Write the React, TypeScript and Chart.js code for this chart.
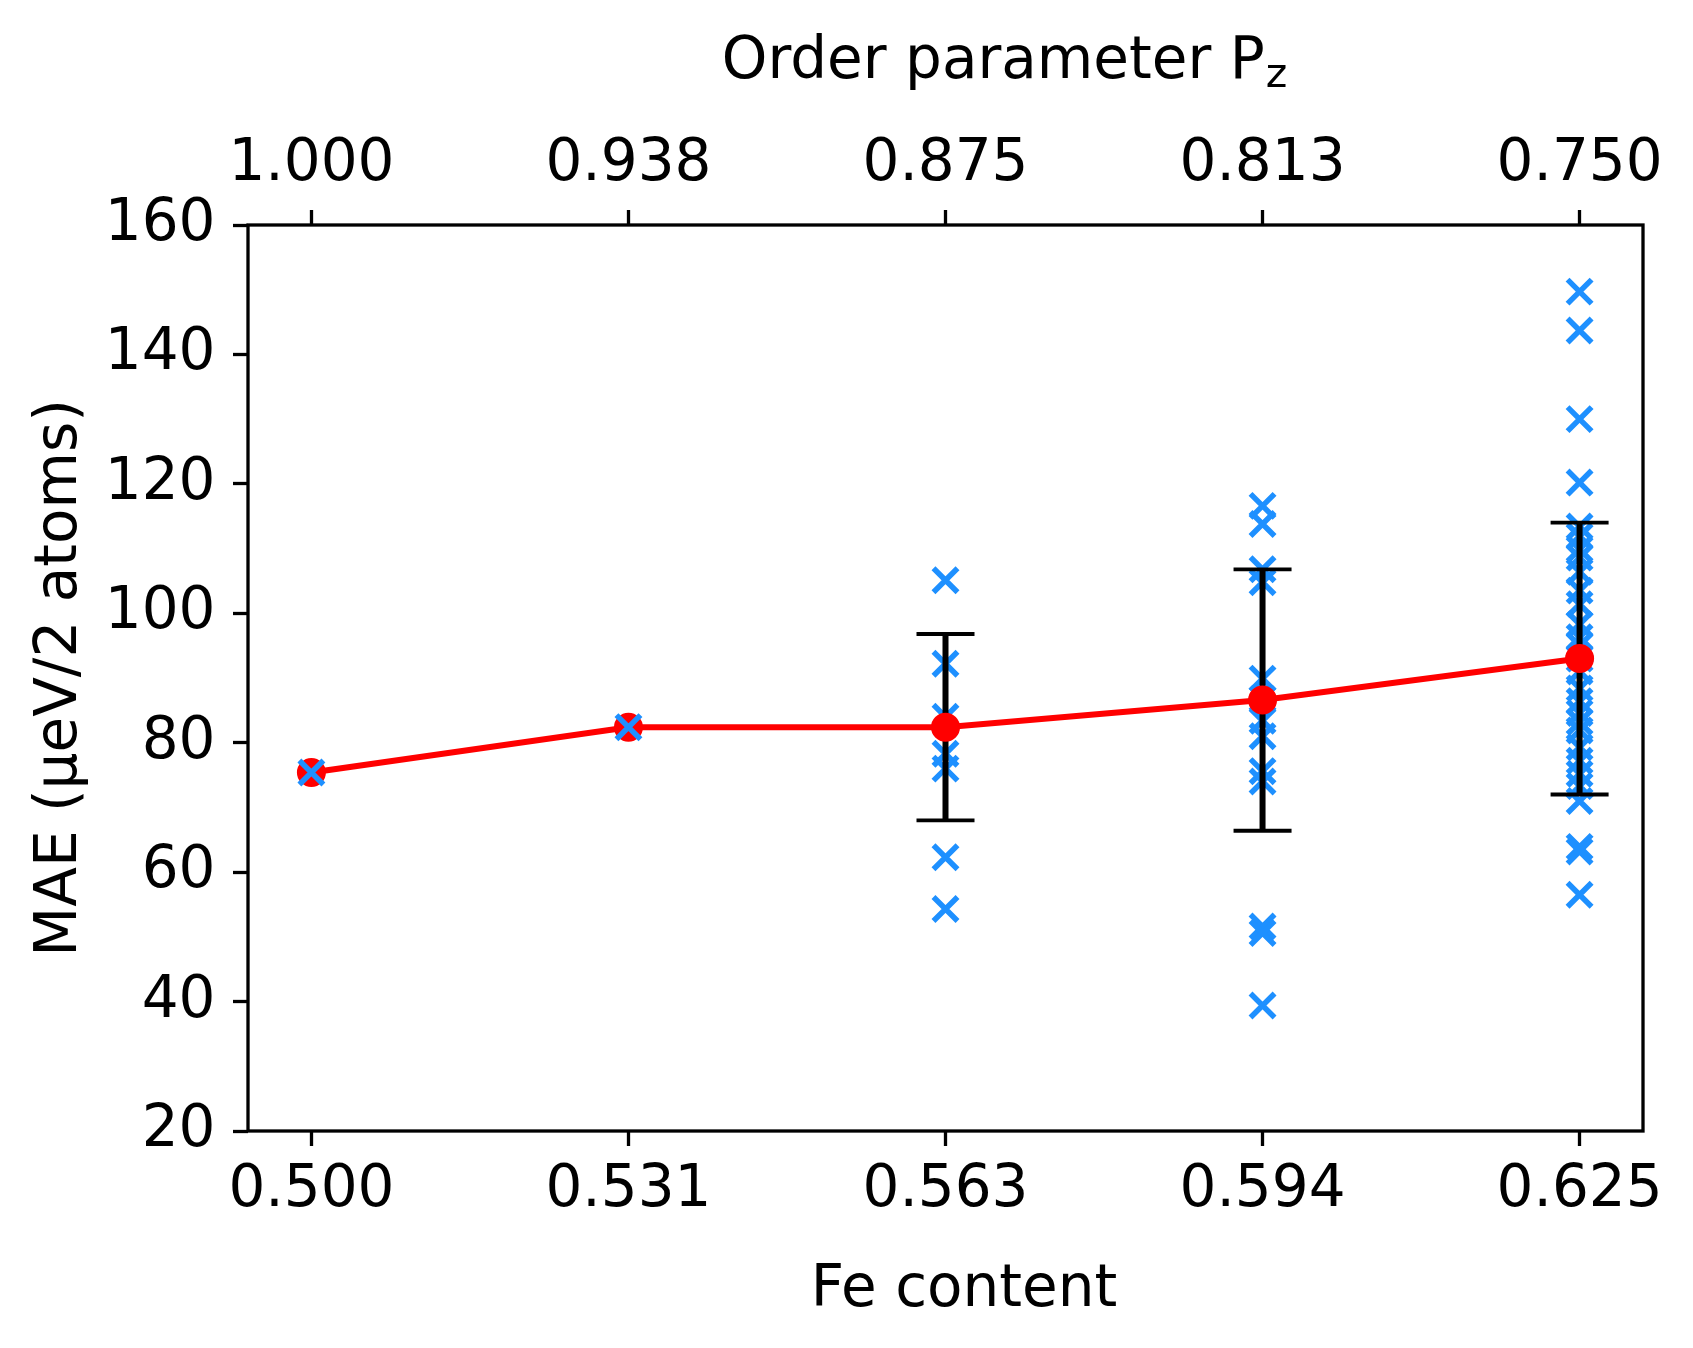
import React, { useEffect, useRef } from 'react';
import { Chart, registerables } from 'chart.js';

Chart.register(...registerables);

// ---- data ----
const feContent = [0.5, 0.53125, 0.5625, 0.59375, 0.625];
const feTickLabels = ['0.500', '0.531', '0.563', '0.594', '0.625'];
const orderTickLabels = ['1.000', '0.938', '0.875', '0.813', '0.750'];

const meanMAE = [75.4, 82.4, 82.4, 86.6, 93.0];
const stdMAE: (number | null)[] = [null, null, 14.4, 20.2, 21.0];

const samples500 = [75.4];
const samples531 = [82.4];
const samples563 = [105.1, 92.2, 84.0, 78.3, 76.0, 62.3, 54.3];
const samples594 = [116.6, 113.8, 106.8, 104.8, 89.9, 86.8, 83.4, 81.0, 75.6, 74.0, 51.6, 50.6, 39.4];
const samples625 = [
  149.7, 143.7, 130.0, 120.2, 113.4, 111.9, 109.9, 108.6, 106.4, 103.5, 101.4, 98.3,
  96.3, 95.0, 93.0, 91.0, 88.4, 86.4, 84.6, 83.2, 81.9, 79.3, 77.2, 75.2, 73.3, 71.0,
  63.9, 63.2, 56.5,
];

const xMin = 0.49375;
const xMax = 0.63125;
const yMin = 20;
const yMax = 160;
const yStep = 20;

const xLabel = 'Fe content';
const yLabel = 'MAE (μeV/2 atoms)';
const topLabelMain = 'Order parameter P';
const topLabelSub = 'z';

const FONT = 'DejaVu Sans';
const FS = 58;

const sampleGroups = [samples500, samples531, samples563, samples594, samples625];

function crossPoints(indices: number[]) {
  return indices.flatMap((i) => sampleGroups[i].map((y) => ({ x: feContent[i], y })));
}

export default function App() {
  const ref = useRef<HTMLCanvasElement | null>(null);

  useEffect(() => {
    const canvas = ref.current;
    if (!canvas) return;

    const errIdx = stdMAE.map((s, i) => (s == null ? -1 : i)).filter((i) => i >= 0);

    const errBarSets = errIdx.map((i) => ({
      data: [
        { x: feContent[i], y: meanMAE[i] - (stdMAE[i] as number) },
        { x: feContent[i], y: meanMAE[i] + (stdMAE[i] as number) },
      ],
      showLine: true,
      borderColor: '#000000',
      borderWidth: 6,
      pointRadius: 0,
      pointHoverRadius: 0,
      order: 3,
    }));

    const capPoints = errIdx.flatMap((i) => [
      { x: feContent[i], y: meanMAE[i] - (stdMAE[i] as number) },
      { x: feContent[i], y: meanMAE[i] + (stdMAE[i] as number) },
    ]);

    const crossStyle = {
      pointStyle: 'crossRot' as const,
      pointRadius: 17,
      pointHoverRadius: 17,
      pointBorderWidth: 5.5,
      pointHoverBorderWidth: 5.5,
      pointBorderColor: '#1E90FF',
      pointBackgroundColor: '#1E90FF',
      showLine: false,
    };

    const tickGrid = {
      display: true,
      drawOnChartArea: false,
      drawTicks: true,
      tickLength: 15,
      tickWidth: 3.3,
      tickColor: '#000000',
    };

    const framePlugin = {
      id: 'frameAndTitles',
      afterDraw(chart: any) {
        const { ctx, chartArea } = chart;
        ctx.save();
        ctx.strokeStyle = '#000000';
        ctx.lineWidth = 3.3;
        ctx.strokeRect(chartArea.left, chartArea.top, chartArea.right - chartArea.left, chartArea.bottom - chartArea.top);

        ctx.fillStyle = '#000000';
        ctx.textBaseline = 'alphabetic';

        // bottom title
        ctx.font = `${FS}px "${FONT}"`;
        ctx.textAlign = 'center';
        ctx.fillText(xLabel, 964, 1306);

        // top title with subscript
        const subFont = `${Math.round(FS * 0.7)}px "${FONT}"`;
        ctx.font = `${FS}px "${FONT}"`;
        const wMain = ctx.measureText(topLabelMain).width;
        ctx.font = subFont;
        const wSub = ctx.measureText(topLabelSub).width;
        const startX = 1004 - (wMain + wSub) / 2;
        ctx.textAlign = 'left';
        ctx.font = `${FS}px "${FONT}"`;
        ctx.fillText(topLabelMain, startX, 78);
        ctx.font = subFont;
        ctx.fillText(topLabelSub, startX + wMain + 1, 78 + 9);

        // y title
        ctx.font = `${FS}px "${FONT}"`;
        ctx.textAlign = 'center';
        ctx.translate(76, 678);
        ctx.rotate(-Math.PI / 2);
        ctx.fillText(yLabel, 0, 0);
        ctx.restore();
      },
    };

    const chart = new Chart(canvas, {
      type: 'scatter',
      data: {
        datasets: [
          { data: crossPoints([0, 1]), ...crossStyle, order: 0 },
          {
            data: feContent.map((x, i) => ({ x, y: meanMAE[i] })),
            showLine: true,
            borderColor: '#FF0000',
            borderWidth: 6,
            pointStyle: 'circle',
            pointRadius: 12.5,
            pointHoverRadius: 12.5,
            pointBorderWidth: 4,
            pointBorderColor: '#FF0000',
            pointBackgroundColor: '#FF0000',
            order: 1,
          } as any,
          {
            data: capPoints,
            showLine: false,
            pointStyle: 'line',
            pointRadius: 29,
            pointHoverRadius: 29,
            pointBorderWidth: 3.8,
            pointHoverBorderWidth: 3.8,
            pointBorderColor: '#000000',
            order: 2,
          } as any,
          ...(errBarSets as any[]),
          { data: crossPoints([2, 3, 4]), ...crossStyle, order: 4 },
        ],
      },
      options: {
        responsive: false,
        maintainAspectRatio: false,
        devicePixelRatio: 1,
        animation: false,
        events: [],
        layout: { padding: { left: 0, right: 50, top: 0, bottom: 0 } },
        plugins: {
          legend: { display: false },
          tooltip: { enabled: false },
          title: { display: false },
        },
        scales: {
          x: {
            type: 'linear',
            position: 'bottom',
            min: xMin,
            max: xMax,
            afterBuildTicks: (scale: any) => {
              scale.ticks = feContent.map((v) => ({ value: v }));
            },
            afterFit: (scale: any) => {
              scale.height = 217;
            },
            ticks: {
              autoSkip: false,
              maxRotation: 0,
              minRotation: 0,
              padding: 10.5,
              color: '#000000',
              font: { family: FONT, size: FS },
              callback: (_v: any, i: number) => feTickLabels[i],
            },
            grid: tickGrid,
            border: { display: false },
          },
          x2: {
            type: 'linear',
            position: 'top',
            min: xMin,
            max: xMax,
            afterBuildTicks: (scale: any) => {
              scale.ticks = feContent.map((v) => ({ value: v }));
            },
            afterFit: (scale: any) => {
              scale.height = 225;
            },
            ticks: {
              autoSkip: false,
              maxRotation: 0,
              minRotation: 0,
              padding: 10,
              color: '#000000',
              font: { family: FONT, size: FS },
              callback: (_v: any, i: number) => orderTickLabels[i],
            },
            grid: tickGrid,
            border: { display: false },
          },
          y: {
            type: 'linear',
            position: 'left',
            min: yMin,
            max: yMax,
            afterFit: (scale: any) => {
              scale.width = 248;
            },
            ticks: {
              stepSize: yStep,
              padding: 17.5,
              color: '#000000',
              font: { family: FONT, size: FS },
            },
            grid: tickGrid,
            border: { display: false },
          },
        },
      } as any,
      plugins: [framePlugin],
    });

    return () => {
      chart.destroy();
    };
  }, []);

  return (
    <div style={{ position: 'absolute', left: 0, top: 0, width: 1693, height: 1348, background: '#ffffff' }}>
      <canvas ref={ref} width={1693} height={1348} style={{ display: 'block', width: 1693, height: 1348 }} />
    </div>
  );
}
